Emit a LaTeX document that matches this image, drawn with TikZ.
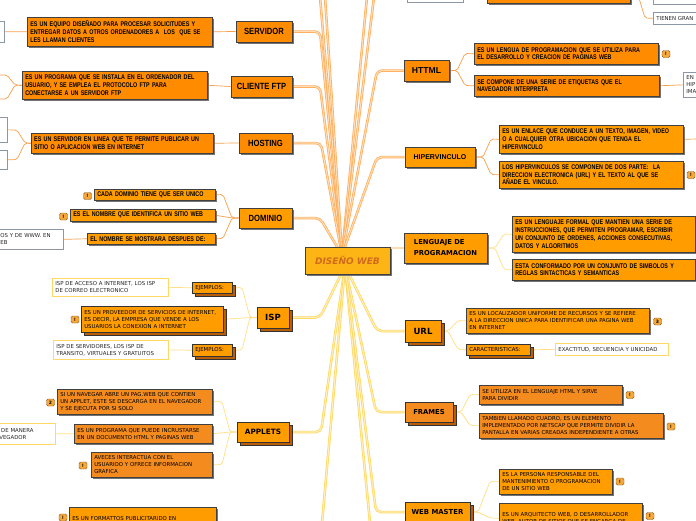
\documentclass[tikz,border=0pt]{standalone}
\usepackage{fontspec}
\setmainfont{Liberation Sans}
\newfontfamily\narrowfont[FakeStretch=0.85]{Liberation Sans}
\newfontfamily\tightfont[FakeStretch=0.79]{Liberation Sans}
\newfontfamily\verdfont{DejaVu Sans}
\usepackage{tikz}
\usetikzlibrary{shadows}

\definecolor{orngA}{HTML}{FF8C00}
\definecolor{orngB}{HTML}{FF9C00}
\definecolor{orngC}{HTML}{F48B1E}
\definecolor{orngD}{HTML}{B85E08}
\definecolor{hubfill}{HTML}{FDB515}
\definecolor{hubtext}{HTML}{D06A1C}
\definecolor{upedge}{HTML}{FFAA58}
\definecolor{upmid}{HTML}{FFDDB4}
\definecolor{lowedge}{HTML}{FFD55A}
\definecolor{lowmid}{HTML}{FFF0B8}
\definecolor{forkup}{HTML}{F7A04A}
\definecolor{forklow}{HTML}{FFDF85}
\definecolor{notegray}{HTML}{8C96A4}
\definecolor{noteyel}{HTML}{FFD966}
\definecolor{flagfill}{HTML}{F6A83A}
\definecolor{flagline}{HTML}{8B5A1E}

\newcommand\mainnarrow{\narrowfont\bfseries\fontsize{9}{10}\selectfont}
\newcommand\descnarrow{\tightfont\bfseries\fontsize{6.8}{7.8}\selectfont}
\newcommand\descverd{\verdfont\fontsize{5.4}{7}\selectfont}
\newcommand\mainverd[1]{\verdfont\bfseries\fontsize{#1}{#1}\selectfont}

\pgfdeclarelayer{lines}
\pgfsetlayers{lines,main}

\tikzset{
  mainbox/.style={draw=black!75, line width=0.6pt, inner sep=1pt, align=center,
    drop shadow={shadow xshift=1.6pt, shadow yshift=-1.6pt, fill=black!55, opacity=1}},
  dblmain/.style={draw=black!80, line width=0.6pt, inner sep=1pt, align=center,
    general shadow={fill=orngD, draw=black!80, shadow xshift=3pt, shadow yshift=-3pt}},
  descbox/.style={draw=black!75, line width=0.5pt, inner xsep=3pt, inner ysep=0pt,
    align=left, anchor=north west,
    drop shadow={shadow xshift=1.6pt, shadow yshift=-1.6pt, fill=black!55, opacity=1}},
  dblbox/.style={draw=black!80, line width=0.5pt, inner xsep=3pt, inner ysep=0pt,
    align=left, anchor=north west,
    general shadow={fill=orngD, draw=black!80, shadow xshift=2.5pt, shadow yshift=-2.5pt}},
  notebox/.style={draw=#1, fill=white, line width=0.7pt, inner xsep=3pt, inner ysep=0pt,
    align=left, anchor=north west, font=\descverd, text=black!85},
  flag/.style={draw=flagline, fill=flagfill, rounded corners=1.5pt, minimum width=8pt,
    minimum height=7pt, inner sep=0pt, font=\verdfont\bfseries\fontsize{4.5}{5}\selectfont},
  hubup/.style={draw=upedge, line width=0.7pt, double=upmid, double distance=1.1pt,
    rounded corners=5pt},
  hublow/.style={draw=lowedge, line width=0.7pt, double=lowmid, double distance=1.1pt,
    rounded corners=5pt},
  branch/.style={draw=#1, line width=0.7pt, rounded corners=2pt}
}

\begin{document}
\begin{tikzpicture}[x=1pt,y=-1pt]
  \useasboundingbox (0,0) rectangle (696,520);

  % centre
  \node[mainbox, fill=hubfill, text=hubtext, minimum width=85pt, minimum height=27pt,
    font=\verdfont\bfseries\itshape\fontsize{9}{10}\selectfont] (hub) at (347.5,260.5) {DISEÑO WEB};

  % main topics, left
  \node[mainbox, fill=orngA, font=\mainnarrow, minimum width=56pt, minimum height=21pt] (servidor) at (264,31.5) {SERVIDOR};
  \node[mainbox, fill=orngA, font=\mainnarrow, minimum width=61pt, minimum height=21pt] (cliente) at (261.5,86.5) {CLIENTE FTP};
  \node[mainbox, fill=orngA, font=\mainnarrow, minimum width=53pt, minimum height=20pt] (hosting) at (265.5,143) {HOSTING};
  \node[mainbox, fill=orngB, font=\mainnarrow, minimum width=53pt, minimum height=20pt] (dominio) at (265.5,218) {DOMINIO};
  \node[dblmain, fill=orngB, font=\mainverd{8.5}, minimum width=32pt, minimum height=21pt] (isp) at (273,317.5) {ISP};
  \node[dblmain, fill=orngB, font=\mainverd{7.3}, minimum width=52pt, minimum height=20pt] (applets) at (263,432) {APPLETS};

  % main topics, right
  \node[mainbox, fill=orngA, font=\bfseries\fontsize{8.6}{9}\selectfont, minimum width=45pt, minimum height=21pt] (httml) at (426.5,70.5) {HTTML};
  \node[mainbox, fill=orngB, font=\bfseries\fontsize{7}{8}\selectfont, minimum width=70pt, minimum height=20pt] (hiper) at (440,157) {HIPERVINCULO};
  \node[mainbox, fill=orngB, font=\verdfont\bfseries\fontsize{6.8}{11}\selectfont, align=left, minimum width=83pt, minimum height=30pt] (leng) at (445.5,248) {LENGUAJE DE\\PROGRAMACION};
  \node[dblmain, fill=orngB, font=\mainverd{8.5}, minimum width=36pt, minimum height=22pt] (url) at (423,331) {URL};
  \node[dblmain, fill=orngC, font=\mainverd{6.8}, minimum width=48pt, minimum height=20pt] (frames) at (429,412) {FRAMES};
  \node[dblmain, fill=orngB, font=\mainverd{6.9}, minimum width=65pt, minimum height=20pt] (webmaster) at (437.5,512) {WEB MASTER};

  % SERVIDOR, CLIENTE FTP, HOSTING
  \node[descbox, fill=orngA, font=\descnarrow, text width=179pt, minimum height=29pt] (srvdesc) at (27,17) {ES UN EQUIPO DISEÑADO PARA PROCESAR SOLICITUDES Y\\ENTREGAR DATOS A OTROS ORDENADORES A\ \ LOS\ \ QUE SE\\LES LLAMAN CLIENTES};
  \node[notebox=notegray, text width=18pt, minimum height=21pt] (srvnote) at (-20,21) {};
  \node[descbox, fill=orngA, font=\descnarrow, text width=179pt, minimum height=28pt] (clidesc) at (22,71) {ES UN PROGRAMA QUE SE INSTALA EN EL ORDENADOR DEL\\USUARIO, Y SE EMPLEA EL PROTOCOLO FTP PARA\\CONECTARSE A UN SERVIDOR FTP};
  \coordinate (cliA) at (-3,75);
  \coordinate (cliB) at (-3,99);
  \node[descbox, fill=orngA, font=\descnarrow, text width=176pt, minimum height=20pt] (hosdesc) at (31,133) {ES UN SERVIDOR EN LINEA QUE TE PERMITE PUBLICAR UN\\SITIO O APLICACION WEB EN INTERNET};
  \node[notebox=notegray, text width=21pt, minimum height=25pt] (hosnoteA) at (-20,117) {};
  \node[notebox=notegray, text width=21pt, minimum height=19pt] (hosnoteB) at (-20,150) {};

  % DOMINIO
  \node[descbox, fill=orngB, font=\descnarrow, text width=115pt, minimum height=11pt] (dom1) at (94,189) {CADA DOMINIO TIENE QUE SER UNICO};
  \node[flag] (dom1flag) at (87.5,196) {!};
  \node[descbox, fill=orngB, font=\descnarrow, text width=139pt, minimum height=12pt] (dom2) at (70,209) {ES EL NOMBRE QUE IDENTIFICA UN SITIO WEB};
  \node[flag] (dom2flag) at (63.5,216.5) {!};
  \node[descbox, fill=orngB, font=\descnarrow, text width=122pt, minimum height=11pt] (dom3) at (87,233) {EL NOMBRE SE MOSTRARA DESPUES DE:};
  \node[notebox=notegray, text width=60pt, minimum height=20pt] (domnote) at (-3,229) {OS Y DE WWW. EN\\EB};

  % ISP
  \node[notebox=noteyel, text width=110pt, minimum height=18pt] (ispnote1) at (52,278) {ISP DE ACCESO A INTERNET, LOS ISP\\DE CORREO ELECTRONICO};
  \node[dblbox, fill=orngB, font=\descverd, text width=34pt, minimum height=11pt] (ejem1) at (192,282) {EJEMPLOS:};
  \node[dblbox, fill=orngB, font=\descverd, text width=136pt, minimum height=26pt] (ispdesc) at (81,306) {ES UN PROVEEDOR DE SERVICIOS DE INTERNET,\\ES DECIR, LA EMPRESA QUE VENDE A LOS\\USUARIOS LA CONEXION A INTERNET};
  \node[flag] (ispflag) at (75,319.5) {!};
  \node[notebox=noteyel, text width=109pt, minimum height=19pt] (ispnote2) at (53,340) {ISP DE SERVIDORES, LOS ISP DE\\TRANSITO, VIRTUALES Y GRATUITOS};
  \node[dblbox, fill=orngB, font=\descverd, text width=34pt, minimum height=12pt] (ejem2) at (192,344) {EJEMPLOS:};

  % APPLETS
  \node[descbox, fill=orngC, font=\descverd, text width=149pt, minimum height=25pt] (app1) at (57,389) {SI UN NAVEGAR ABRE UN PAG.WEB QUE CONTIEN\\UN APPLET, ESTE SE DESCARGA EN EL NAVEGADOR\\Y SE EJECUTA POR SI SOLO};
  \node[flag] (app1flag) at (50.5,402.5) {2};
  \node[descbox, fill=orngC, font=\descverd, text width=132pt, minimum height=19pt] (app2) at (74,424) {ES UN PROGRAMA QUE PUEDE INCRUSTARSE\\EN UN DOCUMENTO HTML Y PAGINAS WEB};
  \node[notebox=noteyel, text width=53pt, minimum height=21pt] (appnote) at (-4,423) {\ DE MANERA\\VEGADOR};
  \node[descbox, fill=orngC, font=\descverd, text width=115pt, minimum height=25pt] (app3) at (91,452) {AVECES INTERACTUA CON EL\\USUARIOO Y OFRECE INFORMACION\\GRAFICA};
  \node[flag] (app3flag) at (83,465.5) {!};
  \node[descbox, fill=orngB, font=\descverd, text width=141pt, minimum height=30pt] (banner) at (69,507) {ES UN FORMATTOS PUBLICITARIDO EN\\INTERNET. LOS BANNER SE CREAN CON\\};
  \node[flag] (bannerflag) at (63,517.5) {!};

  % HTTML
  \node[descbox, fill=orngA, font=\descnarrow, text width=178pt, minimum height=21pt] (htm1) at (474,43) {ES UN LENGUA DE PROGRAMACION QUE SE UTILIZA PARA\\EL DESARROLLO Y CREACION DE PAGINAS WEB};
  \node[flag] (htm1flag) at (666,54) {!};
  \node[descbox, fill=orngA, font=\descnarrow, text width=179pt, minimum height=21pt] (htm2) at (474,75) {SE COMPONE DE UNA SERIE DE ETIQUETAS QUE EL\\NAVEGADOR INTERPRETA};
  \node[notebox=notegray, text width=31pt, minimum height=25pt] (htmnote) at (683,72) {EN\\HIP\\IMA};

  % HIPERVINCULO
  \node[descbox, fill=orngB, font=\descnarrow, text width=178pt, minimum height=28pt] (hip1) at (499,125) {ES UN ENLACE QUE CONDUCE A UN TEXTO, IMAGEN, VIDEO\\O A CUALQUIER OTRA UBICACION QUE TENGA EL\\HIPERVINCULO};
  \coordinate (hipoff) at (700,139);
  \node[descbox, fill=orngB, font=\descnarrow, text width=178pt, minimum height=27pt] (hip2) at (499,161) {LOS HIPERVINCULOS SE COMPONEN DE DOS PARTE:\ \ LA\\DIRECCION ELECTRONICA (URL) Y EL TEXTO AL QUE SE\\AÑADE EL VINCULO.};
  \node[flag] (hip2flag) at (691,175) {!};

  % LENGUAJE DE PROGRAMACION
  \node[descbox, fill=orngB, font=\descnarrow, text width=177pt, minimum height=36pt] (len1) at (512,216) {ES UN LENGUAJE FORMAL QUE MANTIEN UNA SERIE DE\\INSTRUCCIONES, QUE PERMITEN PROGRAMAR, ESCRIBIR\\UN CONJUNTO DE ORDENES, ACCIONES CONSECUTIVAS,\\DATOS Y ALGORITMOS};
  \node[descbox, fill=orngB, font=\descnarrow, text width=177pt, minimum height=21pt] (len2) at (512,259) {ESTA CONFORMADO POR UN CONJUNTO DE SIMBOLOS Y\\REGLAS SINTACTICAS Y SEMANTICAS};

  % URL
  \node[descbox, fill=orngB, font=\descverd, text width=177pt, minimum height=25pt] (url1) at (466,308) {ES UN LOCALIZADOR UNIFORME DE RECURSOS Y SE REFIERE\\A LA DIRECCION UNICA PARA IDENTIFICAR UNA PAGINA WEB\\EN INTERNET};
  \node[flag] (url1flag) at (657.5,321.5) {3};
  \node[dblbox, fill=orngB, font=\descverd, text width=58pt, minimum height=11pt] (urlcar) at (466,344) {CARACTERISTICAS:};
  \node[notebox=noteyel, text width=107pt, minimum height=12pt] (urlnote) at (555,343) {EXACTITUD, SECUENCIA Y UNICIDAD};

  % FRAMES
  \node[descbox, fill=orngC, font=\descverd, text width=137pt, minimum height=19pt] (fr1) at (479,385) {SE UTILIZA EN EL LENGUAJE HTML Y SIRVE\\PARA DIVIDIR};
  \node[flag] (fr1flag) at (630,395) {!};
  \node[descbox, fill=orngC, font=\descverd, text width=178pt, minimum height=25pt] (fr2) at (479,413) {TAMBIEN LLAMADO CUADRO, ES UN ELEMENTO\\IMPLEMENTADO POR NETSCAP QUE PERMITE DIVIDIR LA\\PANTALLA EN VARIAS CREADAS INDEPENDIENTE A OTRAS};
  \node[flag] (fr2flag) at (671,426.5) {!};

  % WEB MASTER
  \node[descbox, fill=orngB, font=\descverd, text width=107pt, minimum height=25pt] (wm1) at (499,469) {ES LA PERSONA RESPONSABLE DEL\\MANTENIMIENTO O PROGRAMACION\\DE UN SITIO WEB};
  \node[flag] (wm1flag) at (620,481.5) {!};
  \node[descbox, fill=orngB, font=\descverd, text width=137pt, minimum height=30pt] (wm2) at (499,503) {ES UN ARQUITECTO WEB, O DESARROLLADOR\\WEB, AUTOR DE SITIOS QUE SE ENCARGA DE\\};
  \node[flag] (wm2flag) at (650,516) {!};

  % cut off at the top
  \node[notebox=notegray, text width=50pt, minimum height=22pt] (topnote) at (407,-20) {};
  \node[descbox, fill=orngA, text width=137pt, minimum height=23pt] (topdesc) at (487,-20) {};
  \node[notebox=notegray, text width=41pt, minimum height=24pt] (topnoteB) at (653,-20) {};
  \node[notebox=notegray, text width=41pt, minimum height=12pt] (tienen) at (653,12) {TIENEN GRAN};

  \coordinate (offA) at (320,-3);
  \coordinate (offB) at (325,-3);
  \coordinate (offC) at (367,-3);
  \coordinate (offD) at (374,-3);
  \coordinate (offE) at (322,523);
  \coordinate (offF) at (370,523);
  \coordinate (hubN) at (342,255);
  \coordinate (hubS) at (345,266);

  \begin{pgfonlayer}{lines}
    \fill[white] (0,0) rectangle (696,520);
    % to the centre
    \draw[hubup] (servidor.east) -- (320,31.5) -- (hubN);
    \draw[hubup] (cliente.east) -- (320,86.5) -- (hubN);
    \draw[hubup] (hosting.east) -- (321,143) -- (hubN);
    \draw[hubup] (dominio.east) -- (320,218) -- (hubN);
    \draw[hubup] (offA) -- (hubN);
    \draw[hubup] (offB) -- (hubN);
    \draw[hubup] (offC) -- (hubN);
    \draw[hubup] (offD) -- (hubN);
    \draw[hubup] (httml.west) -- (377,70.5) -- (hubN);
    \draw[hubup] (hiper.west) -- (377,157) -- (hubN);
    \draw[hubup] (leng.west) -- (leng.west -| hub.east);
    \draw[hublow] (isp.east) -- (320,317.5) -- (hubS);
    \draw[hublow] (applets.east) -- (321,432) -- (hubS);
    \draw[hublow] (offE) -- (hubS);
    \draw[hublow] (offF) -- (hubS);
    \draw[hublow] (url.west) -- (377,331) -- (hubS);
    \draw[hublow] (frames.west) -- (376,412) -- (hubS);
    \draw[hublow] (webmaster.west) -- (376,512) -- (hubS);
    % branches left
    \draw[branch=forkup] (servidor.west) -- (srvdesc.east);
    \draw[branch=forkup] (srvdesc.west) -- (srvnote.east);
    \draw[branch=forkup] (cliente.west) -- (clidesc.east);
    \draw[branch=forkup] (clidesc.west) -- (15,85) -- (7,75) -- (cliA);
    \draw[branch=forkup] (clidesc.west) -- (15,85) -- (7,99) -- (cliB);
    \draw[branch=forkup] (hosting.west) -- (hosdesc.east);
    \draw[branch=forkup] (hosdesc.west) -- (25,143) -- (17,130) -- (hosnoteA.east);
    \draw[branch=forkup] (hosdesc.west) -- (25,143) -- (17,159.5) -- (hosnoteB.east);
    \draw[branch=forkup] (dominio.west) -- (232,218) -- (223,194.5) -- (dom1.east);
    \draw[branch=forkup] (dominio.west) -- (232,218) -- (dom2.east);
    \draw[branch=forkup] (dominio.west) -- (232,218) -- (223,238.5) -- (dom3.east);
    \draw[branch=forkup] (dom3.west) -- (domnote.east);
    \draw[branch=forklow] (isp.west) -- (250,317.5) -- (242,287.5) -- (ejem1.east);
    \draw[branch=forklow] (isp.west) -- (250,317.5) -- (ispdesc.east);
    \draw[branch=forklow] (isp.west) -- (250,317.5) -- (242,350) -- (ejem2.east);
    \draw[branch=forklow] (ejem1.west) -- (ispnote1.east);
    \draw[branch=forklow] (ejem2.west) -- (ispnote2.east);
    \draw[branch=forklow] (applets.west) -- (230,432) -- (222,401.5) -- (app1.east);
    \draw[branch=forklow] (applets.west) -- (230,432) -- (app2.east);
    \draw[branch=forklow] (applets.west) -- (230,432) -- (222,464.5) -- (app3.east);
    \draw[branch=forklow] (app2.west) -- (appnote.east);
    % branches right
    \draw[branch=forkup] (httml.east) -- (457,70.5) -- (465,53.5) -- (htm1.west);
    \draw[branch=forkup] (httml.east) -- (457,70.5) -- (465,85.5) -- (htm2.west);
    \draw[branch=forkup] (htm2.east) -- (htmnote.west);
    \draw[branch=forkup] (hiper.east) -- (483,157) -- (491,139) -- (hip1.west);
    \draw[branch=forkup] (hiper.east) -- (483,157) -- (491,174.5) -- (hip2.west);
    \draw[branch=forkup] (hip1.east) -- (hipoff);
    \draw[branch=forklow] (leng.east) -- (495,248) -- (504,234) -- (len1.west);
    \draw[branch=forklow] (leng.east) -- (495,248) -- (504,269.5) -- (len2.west);
    \draw[branch=forklow] (url.east) -- (448,331) -- (458,320.5) -- (url1.west);
    \draw[branch=forklow] (url.east) -- (448,331) -- (458,349.5) -- (urlcar.west);
    \draw[branch=forklow] (urlcar.east) -- (urlnote.west);
    \draw[branch=forklow] (frames.east) -- (461,412) -- (470,394.5) -- (fr1.west);
    \draw[branch=forklow] (frames.east) -- (461,412) -- (470,425.5) -- (fr2.west);
    \draw[branch=forklow] (webmaster.east) -- (478,512) -- (490,481.5) -- (wm1.west);
    \draw[branch=forklow] (webmaster.east) -- (478,512) -- (490,518) -- (wm2.west);
    \draw[branch=forkup] (topdesc.east) -- (637,-8.5) -- (645,18) -- (tienen.west);
    \draw[branch=forkup] (topdesc.east) -- (637,-8.5) -- (topnoteB.west);
  \end{pgfonlayer}
\end{tikzpicture}
\end{document}
